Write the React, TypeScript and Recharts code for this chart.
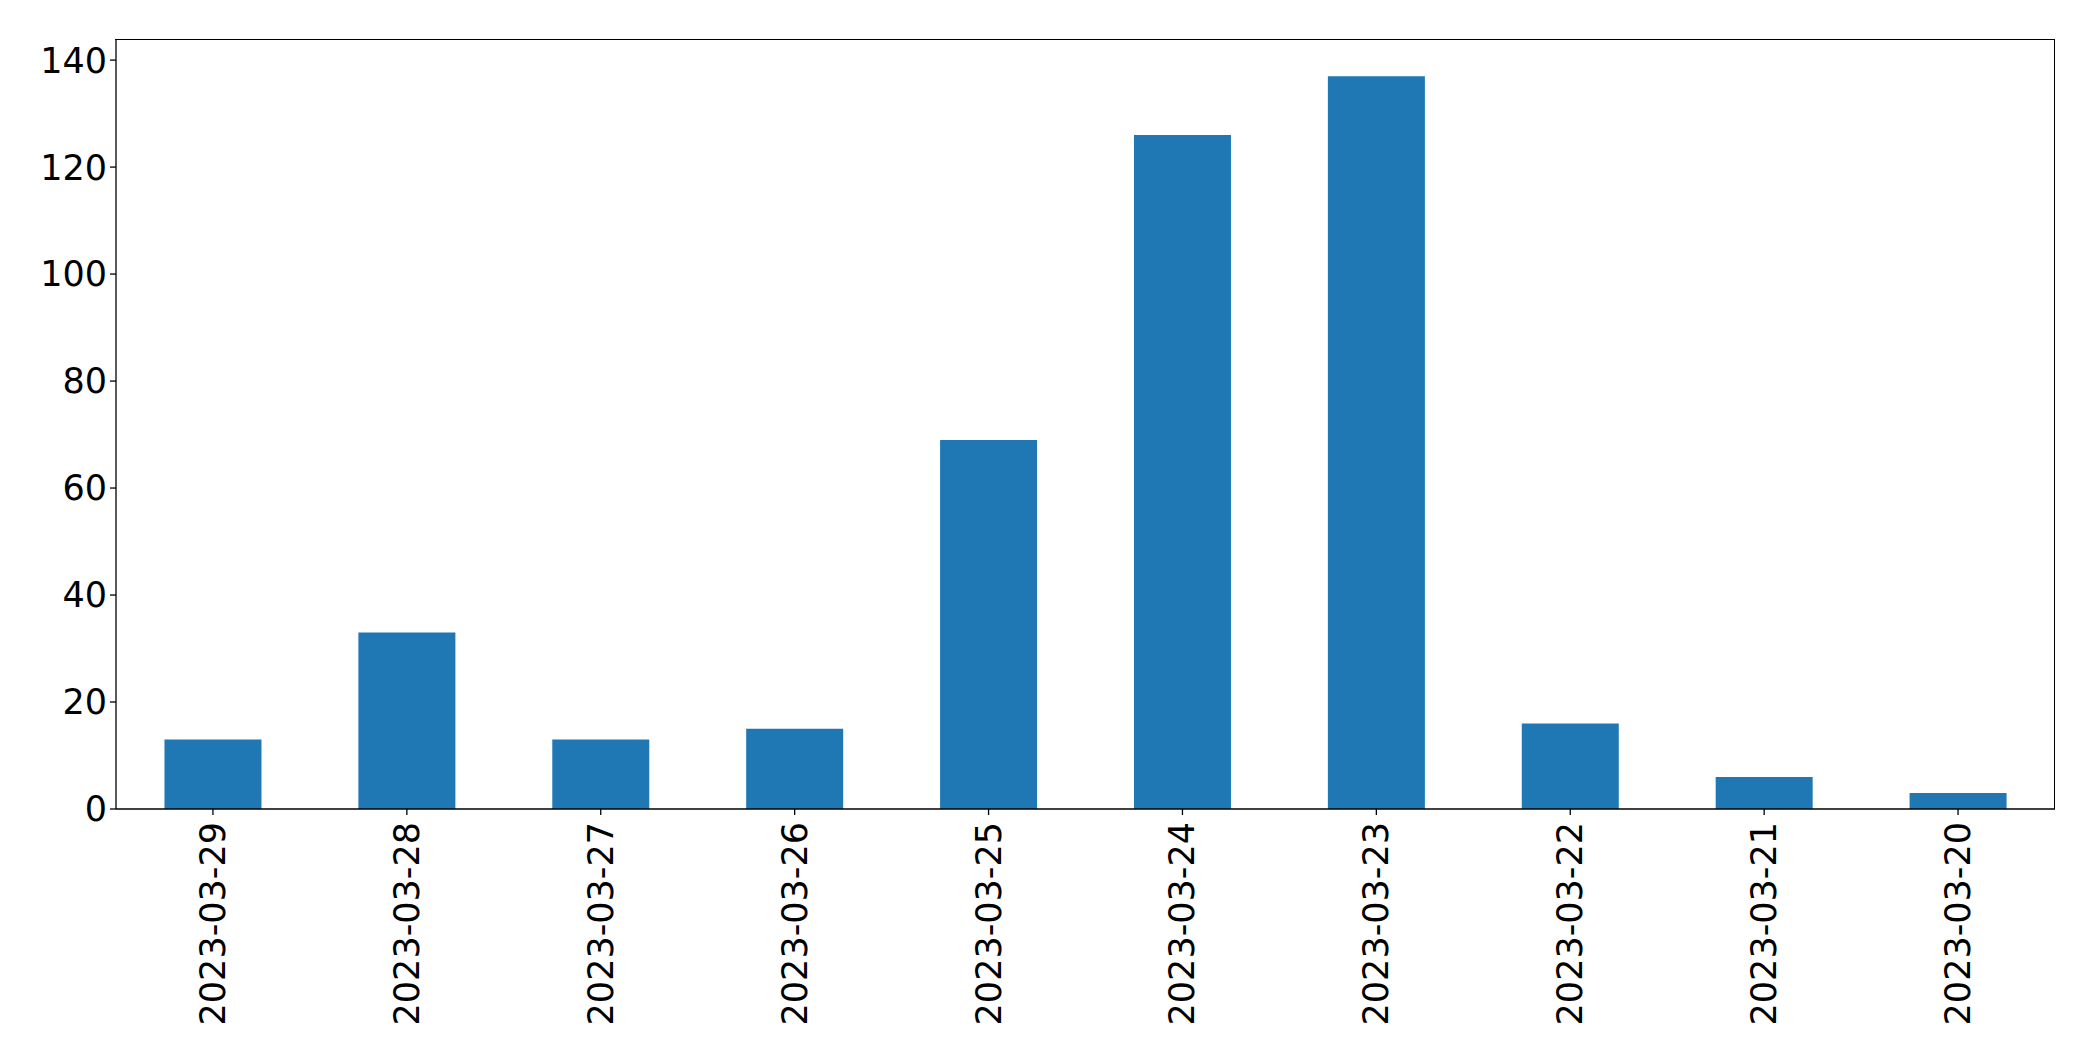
import { BarChart, Bar, XAxis, YAxis } from 'recharts';

// dias (mais recente primeiro, como no original)
const dates = [
  '2023-03-29', '2023-03-28', '2023-03-27', '2023-03-26', '2023-03-25',
  '2023-03-24', '2023-03-23', '2023-03-22', '2023-03-21', '2023-03-20',
];
const counts = [13, 33, 13, 15, 69, 126, 137, 16, 6, 3];
const yTicks = [0, 20, 40, 60, 80, 100, 120, 140];

const chartData = dates.map((date, i) => ({ date, count: counts[i] }));

const FONT = 'DejaVu Sans, sans-serif';
const FS = 35;

const W = 2093;
const H = 1061;
const M = { top: 39.5, right: 38, left: 16, bottom: 52 };
const Y_W = 100;
const X_H = 200;

const RotatedTick = (props: any) => {
  const { x, y, payload } = props;
  return (
    <text
      x={x}
      y={y}
      transform={`rotate(-90, ${x}, ${y})`}
      textAnchor="end"
      dominantBaseline="central"
      fontFamily={FONT}
      fontSize={FS}
      fill="#000"
    >
      {payload.value}
    </text>
  );
};

export default function App() {
  const maxVal = Math.max(...counts);
  // moldura do gráfico (topo e direita) — os eixos cobrem esquerda e base
  const plotLeft = M.left + Y_W;
  const plotTop = M.top;
  const plotW = W - M.right - plotLeft;
  const plotH = H - M.bottom - X_H - plotTop;
  return (
    <div style={{ position: 'absolute', left: 0, top: 0, width: W, height: H, background: '#fff' }}>
      <BarChart width={W} height={H} data={chartData} margin={M} barCategoryGap="25%">
        <XAxis
          dataKey="date"
          interval={0}
          height={X_H}
          tick={<RotatedTick />}
          tickMargin={7}
          tickSize={6}
          axisLine={{ stroke: '#000', strokeWidth: 1.3 }}
          tickLine={{ stroke: '#000', strokeWidth: 1.3 }}
        />
        <YAxis
          width={Y_W}
          domain={[0, maxVal * 1.05]}
          ticks={yTicks}
          tickSize={6}
          tickMargin={3}
          tick={{ fontFamily: FONT, fontSize: FS, fill: '#000' }}
          axisLine={{ stroke: '#000', strokeWidth: 1.3 }}
          tickLine={{ stroke: '#000', strokeWidth: 1.3 }}
        />
        <Bar dataKey="count" fill="#1f77b4" isAnimationActive={false} />
      </BarChart>
      <div
        style={{
          position: 'absolute',
          left: plotLeft - 0.65,
          top: plotTop - 0.65,
          width: plotW,
          height: plotH,
          borderTop: '1.3px solid #000',
          borderRight: '1.3px solid #000',
          pointerEvents: 'none',
        }}
      />
    </div>
  );
}
